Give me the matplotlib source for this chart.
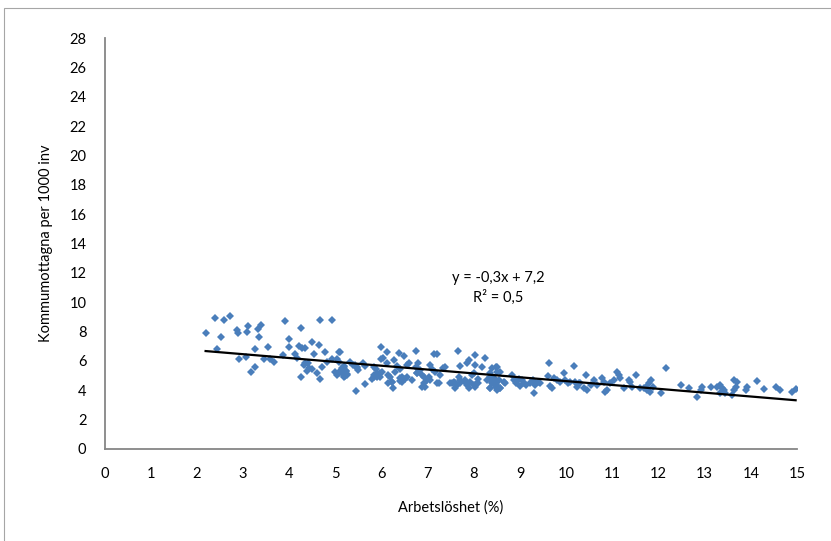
import numpy as np
import matplotlib
matplotlib.use('Agg')
from matplotlib import pyplot as plt
from matplotlib.patches import Rectangle

# unemployment (%) and arrivals per 1000 inhabitants
arbetsloshet = [
    2.19, 2.40, 2.58, 2.71, 2.53, 2.43, 2.88, 2.90, 3.10, 3.08, 3.39, 3.33, 3.35, 3.27,
    2.92, 3.06, 3.25, 3.18, 3.54, 3.46, 3.59, 3.68, 3.90, 4.00, 4.00, 3.86, 4.12, 4.17,
    4.26, 4.22, 4.27, 4.35, 4.25, 4.35, 4.32, 4.40, 4.38, 4.43, 4.49, 4.60, 4.67, 4.71,
    4.49, 4.65, 4.67, 4.92, 4.77, 4.54, 4.82, 4.93, 5.03, 5.08, 5.07, 5.03, 5.08, 5.14,
    5.19, 5.23, 5.19, 5.25, 5.31,
    5.10, 5.19, 5.24, 5.16, 5.26, 5.19, 5.45, 5.43, 5.48, 5.50, 5.61, 5.65, 5.65, 5.83,
    5.89, 5.90, 5.83, 5.96, 6.01, 5.99, 6.12, 6.03, 5.99, 6.12, 6.19, 6.23, 6.25, 6.15,
    6.26, 6.37, 6.48, 6.33, 6.41, 6.30, 6.44, 6.41, 6.51, 6.55, 6.59, 6.75, 6.80, 6.75,
    6.84, 6.77, 6.88, 6.91, 6.95, 7.02, 7.06, 7.04, 7.09, 7.13, 7.20, 7.16, 7.24, 7.27,
    7.34, 7.38, 7.49, 7.56, 7.63, 7.60, 7.71, 7.65, 7.71, 7.81, 7.85, 7.89, 7.85, 7.89,
    7.96, 8.00, 8.03, 8.07, 8.03, 8.10, 8.03, 8.25, 8.18, 8.29, 8.39, 8.36, 8.47, 8.50,
    8.43, 8.50,
    5.00, 5.07, 5.21, 5.39, 5.47, 5.83, 5.90, 5.97, 5.79, 6.15, 6.23, 6.41, 6.44, 6.55,
    6.66, 6.77, 6.91, 6.98, 6.88, 7.20, 7.53, 7.60, 7.71, 7.81, 7.67, 7.92, 8.00, 8.10,
    8.36, 8.39, 8.47, 8.54, 8.57,
    8.47, 8.39, 8.50, 8.36, 8.39, 8.43, 8.36, 8.47, 8.57, 8.57, 8.65, 8.68, 8.83, 8.86,
    8.92, 8.97, 9.01, 9.08, 9.04, 9.14, 9.21, 9.28, 9.33, 9.30, 9.40, 9.44, 9.62, 9.60,
    9.66, 9.69, 9.73, 9.80, 9.87, 9.95, 9.98, 10.05, 10.09, 10.16, 10.20, 10.24, 10.27,
    10.31, 10.38, 10.42, 10.45, 10.53, 10.60, 10.67, 10.78, 10.81, 10.85, 10.89, 10.96,
    11.03, 11.10, 11.14, 11.17, 11.25, 11.36, 11.39, 11.43, 11.52, 11.61, 11.72, 11.79,
    11.68, 11.75, 11.81, 11.83, 11.88, 12.06, 12.17, 12.48, 12.66, 12.84, 12.95, 12.93,
    13.14, 13.27, 13.34, 13.38, 13.41, 13.34, 13.45, 13.60, 13.63, 13.71, 13.67, 13.63,
    13.89, 13.92, 14.14, 14.28, 14.54, 14.64, 14.90, 14.97,
]
kommumottagna = [
    7.90, 8.92, 8.77, 9.06, 7.61, 6.81, 8.09, 7.90, 8.36, 7.95, 8.41, 8.17, 7.61, 6.81,
    6.11, 6.23, 5.57, 5.25, 6.91, 6.11, 6.11, 5.93, 8.68, 7.45, 6.95, 6.38, 6.43, 6.16,
    8.20, 7.02, 6.84, 6.88, 4.88, 5.86, 5.70, 5.82, 5.31, 5.48, 5.43, 5.18, 4.75, 5.59,
    7.29, 7.06, 8.77, 8.75, 6.59, 6.45, 5.93, 6.09, 6.09, 6.61, 5.93, 5.02, 5.25, 5.48,
    5.59, 5.31, 4.95, 5.09, 5.89,
    6.61, 5.63, 5.31, 5.18, 5.02, 4.90, 3.93, 5.70, 5.54, 5.36, 5.86, 5.63, 4.39, 5.54,
    5.41, 4.90, 4.90, 5.14, 5.25, 6.95, 6.61, 6.16, 6.09, 5.82, 4.90, 4.56, 4.11, 4.45,
    6.04, 6.50, 6.32, 5.63, 5.41, 5.25, 4.90, 4.63, 4.73, 5.70, 5.82, 6.68, 5.82, 5.59,
    5.36, 5.14, 5.02, 4.45, 4.22, 4.90, 4.68, 5.70, 5.41, 6.45, 6.45, 5.25, 4.45, 5.02,
    5.48, 5.59, 4.45, 4.56, 4.34, 4.11, 4.68, 6.68, 5.63, 4.68, 4.34, 4.11, 5.82, 6.04,
    5.02, 5.14, 6.38, 4.45, 4.22, 4.73, 5.70, 6.16, 5.59, 4.68, 4.45, 4.11, 4.34, 4.00,
    4.80, 5.59,
    5.25, 5.14, 4.95, 5.70, 5.48, 5.02, 5.14, 4.90, 4.73, 5.02, 4.56, 4.80, 4.56, 4.90,
    4.68, 5.14, 4.90, 4.68, 4.22, 4.45, 4.50, 4.45, 4.50, 4.56, 4.90, 4.56, 4.34, 4.45,
    4.90, 4.56, 4.45, 4.68, 4.11,
    5.59, 5.48, 5.25, 5.14, 4.80, 4.45, 4.11, 4.22, 5.25, 4.11, 4.56, 4.45, 5.02, 4.68,
    4.45, 4.73, 4.27, 4.50, 4.68, 4.34, 4.50, 4.68, 4.34, 3.82, 4.56, 4.45, 5.82, 4.95,
    4.27, 4.11, 4.80, 4.68, 4.56, 5.14, 4.68, 4.50, 4.56, 5.65, 4.56, 4.22, 4.45,
    4.45, 4.11, 5.02, 4.00, 4.34, 4.68, 4.34, 4.80, 4.56, 3.88, 4.00, 4.50,
    4.68, 5.25, 5.02, 4.80, 4.11, 4.68, 4.56, 4.22, 5.02, 4.11, 4.22, 4.45,
    4.11, 4.00, 3.88, 4.68, 4.22, 3.82, 5.48, 4.34, 4.11, 3.54, 4.22, 4.00,
    4.22, 4.22, 4.34, 4.11, 4.00, 3.77, 3.77, 3.66, 4.68, 4.56, 4.22, 4.00,
    4.00, 4.22, 4.63, 4.04, 4.18, 4.00, 3.84, 4.04,
]

x_ticks = list(range(0, 16))
y_ticks = list(range(0, 29, 2))
trend_text = 'y = -0,3x + 7,2\nR² = 0,5'

plt.rcParams['font.family'] = ['Lato', 'DejaVu Sans']

fig = plt.figure(figsize=(8.31, 5.41), dpi=100)
# chart-area frame: only its left and top edges fall inside the picture
fig.patches.append(Rectangle((4 / 831, -0.1), 1.2, 1.1 - 8 / 541,
                             transform=fig.transFigure, fill=False,
                             edgecolor='#a6a6a6', linewidth=0.8))
ax = fig.add_axes([104.5 / 831, 1 - 448.7 / 541, (797 - 104.5) / 831, (448.7 - 38) / 541])

x = np.array(arbetsloshet)
y = np.array(kommumottagna)
ax.plot(x, y, linestyle='none', marker='D', markersize=4.3, color='#4a7ebb',
        markeredgewidth=0, zorder=2)

# linear trend line
k, m = np.polyfit(x, y, 1)
xs = np.array([x.min(), x.max()])
ax.plot(xs, k * xs + m, color='black', linewidth=1.6, zorder=3)

ax.text(8.53, 10.95, trend_text, ha='center', va='center', fontsize=10.5,
        linespacing=1.45)

ax.set_xlim(0, 15)
ax.set_ylim(0, 28)
ax.set_xticks(x_ticks)
ax.set_yticks(y_ticks)
ax.tick_params(length=0, labelsize=10.5)
ax.tick_params(axis='y', pad=13)
ax.tick_params(axis='x', pad=13)
for s in ['top', 'right']:
    ax.spines[s].set_visible(False)
for s in ['left', 'bottom']:
    ax.spines[s].set_color('#868686')
    ax.spines[s].set_linewidth(1.3)

ax.set_xlabel('Arbetslöshet (%)', fontsize=10.5, labelpad=14)
ax.set_ylabel('Kommumottagna per 1000 inv', fontsize=10.5, labelpad=12)

fig.savefig('out.png', dpi=100)
